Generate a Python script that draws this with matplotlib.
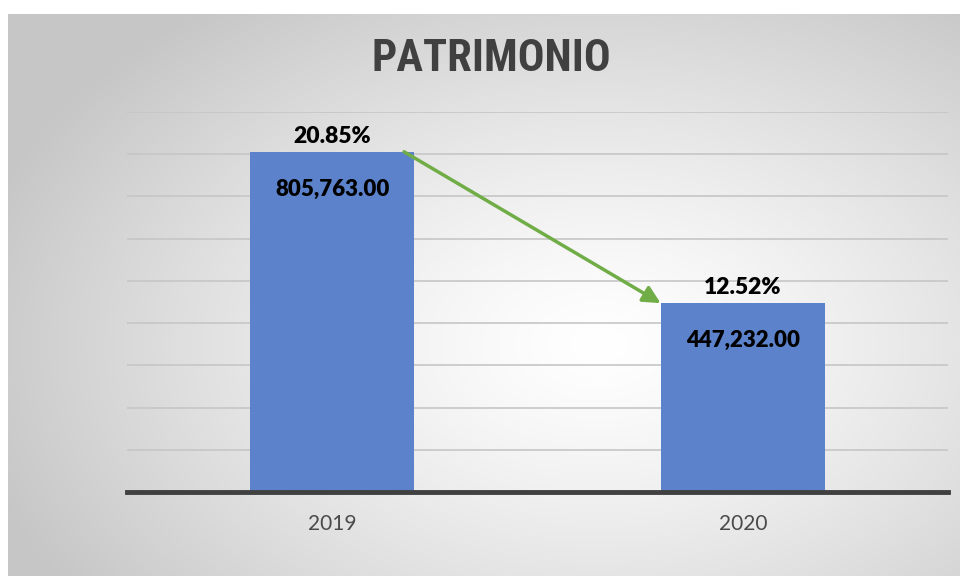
import numpy as np
import matplotlib.pyplot as plt

# data
years = ['2019', '2020']
patrimonio = [805763.00, 447232.00]
porcentajes = ['20.85%', '12.52%']

fig = plt.figure(figsize=(9.6, 5.76), dpi=100)

# gray radial background panel
bg = fig.add_axes([8 / 960, 0, 952 / 960, 562 / 576])
yy, xx = np.mgrid[0:562, 0:952]
cx, cy = 590, 330
t = np.sqrt(((xx - cx) / 640) ** 2 + ((yy - cy) / 420) ** 2)
t = np.clip(t, 0, 1)
shade = 1.0 - 0.22 * t ** 1.3
bg.imshow(np.dstack([shade, shade, shade]), aspect='auto', interpolation='bilinear')
bg.set_axis_off()

ax = fig.add_axes([127 / 960, 1 - 492 / 576, 821 / 960, 380 / 576])
ax.patch.set_alpha(0)

x = np.arange(len(years))
ax.bar(x, patrimonio, width=0.4, color='#5B82CB', zorder=2)

ax.set_xlim(-0.5, 1.5)
ax.set_ylim(0, 900000)
ax.set_yticks(np.arange(0, 900001, 100000))
ax.set_yticklabels([])
ax.tick_params(axis='y', length=0)
ax.yaxis.grid(True, color='#C6C6C6', lw=1.2)
ax.set_axisbelow(True)

ax.set_xticks(x)
ax.set_xticklabels(years, fontsize=15, color='#4A4A4A', family=['Lato', 'DejaVu Sans'])
ax.tick_params(axis='x', length=0, pad=16)

for s in ['top', 'left', 'right']:
    ax.spines[s].set_visible(False)
ax.spines['bottom'].set_color('#404040')
ax.spines['bottom'].set_linewidth(3.5)

for i in range(len(years)):
    ax.annotate(porcentajes[i], (x[i], patrimonio[i]), xytext=(0, 11), textcoords='offset points',
                ha='center', va='center', fontsize=16.5, fontweight='heavy', color='black',
                family=['Lato', 'DejaVu Sans'])
    ax.annotate(f'{patrimonio[i]:,.2f}', (x[i], patrimonio[i]), xytext=(0, -27), textcoords='offset points',
                ha='center', va='center', fontsize=16, fontweight='heavy', color='black',
                family=['Lato', 'DejaVu Sans'])

# green arrow from 2019 bar to 2020 bar
ax.annotate('', xy=(x[1] - 0.2, patrimonio[1]), xytext=(x[0] + 0.175, patrimonio[0]),
            arrowprops=dict(arrowstyle='-|>', color='#70AD47', lw=2.5, mutation_scale=26,
                            shrinkA=0, shrinkB=0))

fig.text(491 / 960, 1 - 59 / 576, 'PATRIMONIO', ha='center', va='center', fontsize=32,
         fontweight='bold', fontstretch='condensed', color='#404040',
         family=['Roboto Condensed', 'Open Sans Condensed', 'DejaVu Serif'])

fig.savefig('out.png', dpi=100)
